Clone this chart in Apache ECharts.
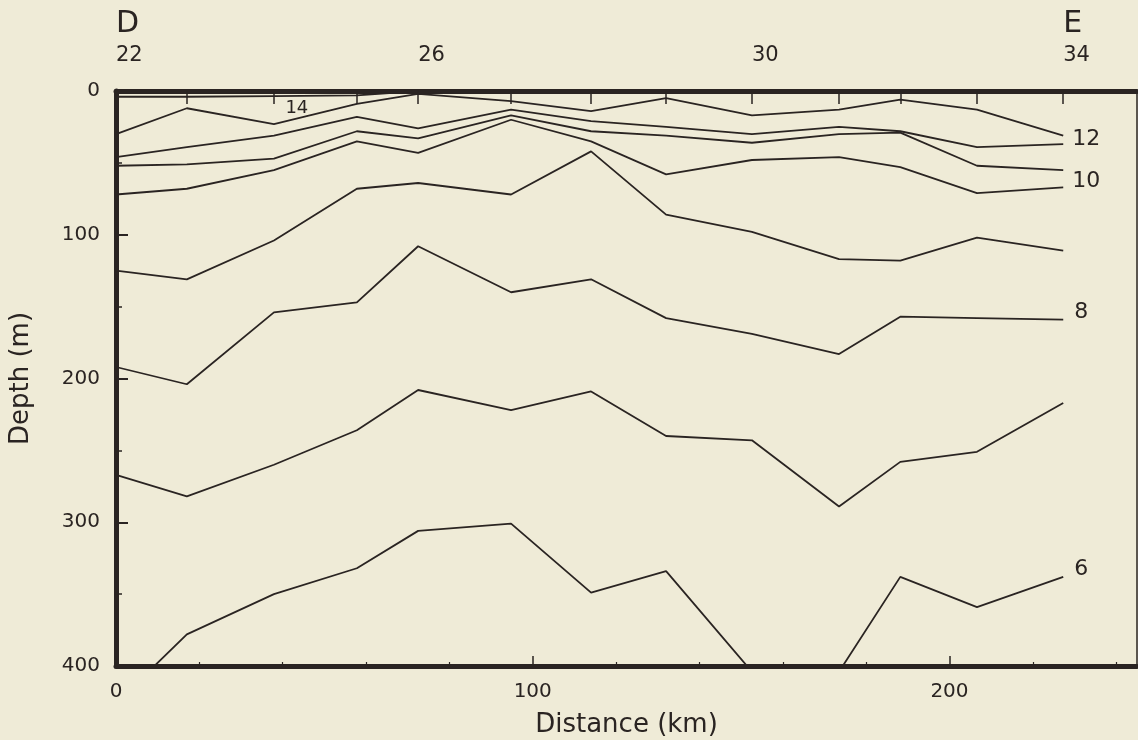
<!DOCTYPE html>
<html>
<head>
<meta charset="utf-8">
<script src="https://cdn.jsdelivr.net/npm/echarts@6/dist/echarts.min.js"></script>
<style>
html,body{margin:0;padding:0;background:#efebd7;}
#chart{width:1138px;height:740px;}
</style>
</head>
<body>
<div id="chart"></div>
<script>
// Stations along section D-E
const stationNumbers = [22, 23, 24, 25, 26, 27, 28, 29, 30, 31, 32, 33, 34];
const stationKm = [0, 17.0, 37.9, 57.8, 72.5, 94.8, 114.0, 132.0, 152.6, 173.5, 188.2, 206.6, 227.3];
const topLabelStations = [22, 26, 30, 34];
const sectionEnds = { 22: 'D', 34: 'E' };
const xTickLabels = [0, 100, 200];
const xMinorTicks = [20, 40, 60, 80, 120, 140, 160, 180, 220, 240];
const yTickLabels = [0, 100, 200, 300, 400];

// Isotherm depths (m) at each station
const iso6  = [426, 378, 350, 332, 306, 301, 349, 334, 404, 404, 338, 359, 338];
const iso7  = [267, 282, 260, 236, 208, 222, 209, 240, 243, 289, 258, 251, 217];
const iso8  = [192, 204, 154, 147, 108, 140, 131, 158, 169, 183, 157, 158, 159];
const iso9  = [125, 131, 104, 68, 64, 72, 42, 86, 98, 117, 118, 102, 111];
const iso10 = [72, 68, 55, 35, 43, 20, 35, 58, 48, 46, 53, 71, 67];
const iso11 = [52, 51, 47, 28, 33, 17, 28, 31, 36, 30, 29, 52, 55];
const iso12 = [46, 39, 31, 18, 26, 13, 21, 25, 30, 25, 28, 39, 37];
const iso13 = [30, 12, 23, 9, 2, 7, 14, 5, 17, 13, 6, 13, 31];
const iso14 = [4, 4, 3.5, 3, 0];

// Contour labels: text, distance (km), depth (m)
const labelTexts = ['14', '12', '10', '8', '6'];
const labelKm    = [43.4, 232.8, 232.8, 231.6, 231.6];
const labelDepth = [11.8, 33.4, 62.6, 153.7, 332.5];

const ink = '#2a2422';
const font = 'DejaVu Sans';
const xMax = 245;

const isotherms = [iso6, iso7, iso8, iso9, iso10, iso11, iso12, iso13, iso14];
const isoNames = ['6', '7', '8', '9', '10', '11', '12', '13', '14'];

const lineSeries = isotherms.map((arr, k) => ({
  type: 'line',
  name: isoNames[k],
  xAxisIndex: 0,
  yAxisIndex: 0,
  data: arr.map((d, i) => [stationKm[i], d]),
  symbol: 'none',
  clip: true,
  lineStyle: { color: ink, width: 1.8 },
  silent: true,
  animation: false
}));

const labelSeries = {
  type: 'scatter',
  xAxisIndex: 0,
  yAxisIndex: 0,
  symbolSize: 0,
  animation: false,
  silent: true,
  itemStyle: { opacity: 1 },
  data: labelTexts.map((t, i) => ({
    name: t,
    value: [labelKm[i], labelDepth[i]],
    label: { fontSize: t === '14' ? 18 : 22 }
  })),
  label: {
    show: true,
    position: 'inside',
    formatter: p => p.name,
    color: ink,
    opacity: 1,
    fontFamily: font
  }
};

const topVals = topLabelStations.map(s => stationKm[stationNumbers.indexOf(s)]);
const gridRect = { left: 116, right: 1, top: 91, bottom: 74, containLabel: false, outerBoundsMode: 'none' };

const chart = echarts.init(document.getElementById('chart'), null, { renderer: 'canvas' });
chart.setOption({
  backgroundColor: '#efebd7',
  animation: false,
  grid: [Object.assign({}, gridRect), Object.assign({}, gridRect)],
  xAxis: [
    {
      gridIndex: 0, type: 'value', position: 'bottom', min: 0, max: xMax, interval: 100,
      name: 'Distance (km)', nameLocation: 'middle', nameGap: 46,
      nameTextStyle: { fontFamily: font, fontSize: 26, color: ink },
      axisLine: { show: true, onZero: false, lineStyle: { color: ink, width: 5 } },
      axisTick: { show: true, inside: true, length: 10, lineStyle: { color: ink, width: 1.5 } },
      axisLabel: {
        show: true, margin: 16, fontFamily: font, fontSize: 20, color: ink,
        showMaxLabel: false,
        formatter: v => (xTickLabels.indexOf(v) >= 0 ? String(v) : '')
      },
      splitLine: { show: false }
    },
    {
      gridIndex: 0, type: 'value', position: 'top', min: 0, max: xMax,
      axisLine: { show: true, onZero: false, lineStyle: { color: ink, width: 5 } },
      axisTick: { show: true, inside: true, length: 13, customValues: stationKm, lineStyle: { color: ink, width: 1.5 } },
      axisLabel: {
        show: true, customValues: topVals, margin: 22, align: 'left',
        formatter: v => {
          let idx = 0, best = 1e9;
          stationKm.forEach((k, i) => { if (Math.abs(k - v) < best) { best = Math.abs(k - v); idx = i; } });
          const n = stationNumbers[idx];
          return sectionEnds[n] ? '{big|' + sectionEnds[n] + '}\n{num|' + n + '}' : '{num|' + n + '}';
        },
        rich: {
          big: { fontFamily: font, fontSize: 30, lineHeight: 38, color: ink, align: 'left' },
          num: { fontFamily: font, fontSize: 21, lineHeight: 26, color: ink, align: 'left' }
        }
      },
      splitLine: { show: false }
    },
    {
      gridIndex: 1, type: 'value', position: 'bottom', min: 0, max: xMax,
      axisLine: { show: false, onZero: false },
      axisTick: { show: true, inside: true, length: 4, customValues: xMinorTicks, lineStyle: { color: ink, width: 1.2 } },
      axisLabel: { show: false },
      splitLine: { show: false }
    }
  ],
  yAxis: [
    {
      gridIndex: 0, type: 'value', position: 'left', inverse: true, min: 0, max: 400, interval: 100,
      name: 'Depth (m)', nameLocation: 'middle', nameGap: 82, nameRotate: 90,
      nameTextStyle: { fontFamily: font, fontSize: 26, color: ink },
      axisLine: { show: true, onZero: false, lineStyle: { color: ink, width: 5 } },
      axisTick: { show: true, inside: true, length: 12, lineStyle: { color: ink, width: 2 } },
      minorTick: { show: true, splitNumber: 2, length: 6, lineStyle: { color: ink, width: 1.5 } },
      axisLabel: {
        show: true, margin: 16, fontFamily: font, fontSize: 20, color: ink,
        formatter: v => (yTickLabels.indexOf(v) >= 0 ? String(v) : '')
      },
      splitLine: { show: false }
    },
    {
      gridIndex: 0, type: 'value', position: 'right', inverse: true, min: 0, max: 400,
      axisLine: { show: true, onZero: false, lineStyle: { color: ink, width: 1.5 } },
      axisTick: { show: false }, axisLabel: { show: false }, splitLine: { show: false }
    },
    {
      gridIndex: 1, type: 'value', inverse: true, min: 0, max: 400, show: false,
      axisLine: { onZero: false }
    }
  ],
  series: lineSeries.concat([labelSeries])
});
</script>
</body>
</html>
